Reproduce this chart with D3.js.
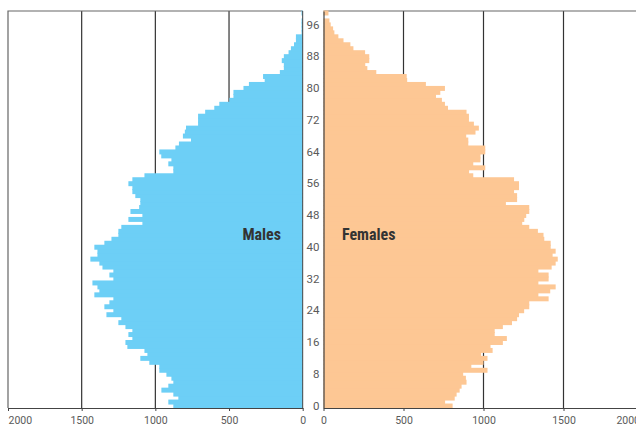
<!DOCTYPE html>
<html>
<head>
<meta charset="utf-8">
<script src="https://cdn.jsdelivr.net/npm/d3@7"></script>
<style>
  body { margin: 0; background: #fff; }
  .tick text { font-family: Roboto, "Open Sans", sans-serif; fill: #5a5a5a; }
  .label { font-family: "Liberation Sans Narrow", "Roboto Condensed", Roboto, sans-serif; font-weight: bold; fill: #333; }
</style>
</head>
<body>
<div id="chart"></div>
<script>
// population by single year of age, 0..99
var males = [878, 912, 844, 878, 959, 912, 878, 891, 925, 973,
  973, 1041, 1102, 1054, 1074, 1190, 1203, 1156, 1183, 1156,
  1203, 1251, 1231, 1332, 1285, 1346, 1312, 1285, 1414, 1380,
  1393, 1427, 1285, 1312, 1285, 1359, 1380, 1441, 1393, 1393,
  1414, 1346, 1298, 1251, 1251, 1231, 1088, 1183, 1088, 1169,
  1110, 1102, 1102, 1136, 1156, 1156, 1183, 1156, 1074, 878,
  878, 912, 891, 960, 973, 864, 840, 758, 813, 800,
  792, 710, 710, 710, 662, 600, 566, 498, 470, 470,
  402, 365, 258, 269, 155, 128, 128, 142, 128, 96,
  80, 59, 46, 46, 8, 8, 8, 8, 3, 8];

var females = [807, 760, 820, 832, 851, 863, 894, 890, 873, 1025,
  924, 1000, 1025, 985, 1057, 1044, 1121, 1146, 1070, 1070,
  1121, 1178, 1210, 1222, 1254, 1286, 1286, 1407, 1343, 1417,
  1451, 1343, 1407, 1407, 1343, 1426, 1451, 1464, 1432, 1451,
  1420, 1420, 1380, 1375, 1340, 1286, 1242, 1255, 1267, 1286,
  1286, 1140, 1210, 1210, 1191, 1222, 1222, 1191, 936, 910,
  1011, 936, 981, 981, 1011, 1011, 905, 905, 892, 950,
  971, 940, 909, 909, 894, 778, 759, 740, 703, 730,
  759, 640, 523, 520, 330, 274, 261, 286, 286, 260,
  187, 168, 125, 93, 68, 60, 45, 37, 0, 31];

var ages = d3.range(males.length);
var ageTicks = [0, 8, 16, 24, 32, 40, 48, 56, 64, 72, 80, 88, 96];
var popTicks = [0, 500, 1000, 1500, 2000];
var gridValues = [500, 1000, 1500];

var svgWidth = 636;
var svgHeight = 433;
var plotTop = 11;
var plotBottom = 408;

var svg = d3.select("#chart")
  .append("svg")
  .attr("width", svgWidth)
  .attr("height", svgHeight);

var xMale = d3.scaleLinear().domain([0, 2000]).range([302.7, 8]);
var xFemale = d3.scaleLinear().domain([0, 2000]).range([323.5, 643.5]);
var y = d3.scaleBand().domain(ages).range([plotBottom, plotTop]).padding(0);

// gridlines behind the bars
svg.selectAll(".gridM")
  .data(gridValues)
  .enter()
  .append("line")
  .attr("x1", d => xMale(d)).attr("x2", d => xMale(d))
  .attr("y1", plotTop).attr("y2", plotBottom)
  .attr("stroke", "#333").attr("stroke-width", 1.2);

svg.selectAll(".gridF")
  .data(gridValues)
  .enter()
  .append("line")
  .attr("x1", d => xFemale(d)).attr("x2", d => xFemale(d))
  .attr("y1", plotTop).attr("y2", plotBottom)
  .attr("stroke", "#333").attr("stroke-width", 1.2);

// frames
svg.append("path")
  .attr("d", `M${xMale(2000)},${plotBottom}V${plotTop}H${xMale(0)}`)
  .attr("fill", "none").attr("stroke", "#666").attr("stroke-width", 1.2);
svg.append("path")
  .attr("d", `M${xFemale(0)},${plotTop}H${xFemale(2000)}`)
  .attr("fill", "none").attr("stroke", "#666").attr("stroke-width", 1.2);

// bars (slight overlap so no seams show between ages)
svg.selectAll(".male")
  .data(males)
  .enter()
  .append("rect")
  .attr("x", d => xMale(d))
  .attr("y", (d, i) => y(i) - 0.5)
  .attr("width", d => xMale(0) - xMale(d))
  .attr("height", y.bandwidth() + 1)
  .attr("fill", "#6DCFF6");

svg.selectAll(".female")
  .data(females)
  .enter()
  .append("rect")
  .attr("x", xFemale(0))
  .attr("y", (d, i) => y(i) - 0.5)
  .attr("width", d => xFemale(d) - xFemale(0))
  .attr("height", y.bandwidth() + 1)
  .attr("fill", "#FDC794");

// axes
var fmt = d3.format("d");
var maleAxis = svg.append("g")
  .attr("transform", `translate(0, ${plotBottom})`)
  .call(d3.axisBottom(xMale).tickValues(popTicks).tickFormat(fmt).tickSize(3).tickPadding(6).tickSizeOuter(0));
maleAxis.selectAll("text").style("font-size", "10.5px")
  .filter(d => d === 2000).attr("text-anchor", "start");

var femaleAxis = svg.append("g")
  .attr("transform", `translate(0, ${plotBottom})`)
  .call(d3.axisBottom(xFemale).tickValues(popTicks).tickFormat(fmt).tickSize(3).tickPadding(6).tickSizeOuter(0));
femaleAxis.selectAll("text").style("font-size", "10.5px")
  .filter(d => d === 2000).attr("text-anchor", "end").attr("dx", "-4");

var ageAxis = svg.append("g")
  .attr("transform", `translate(${xFemale(0)}, 0)`)
  .call(d3.axisLeft(y).tickValues(ageTicks).tickSize(0).tickPadding(4).tickSizeOuter(0));
ageAxis.selectAll("text").style("font-size", "11.5px");

// right edge of the male side
svg.append("line")
  .attr("x1", xMale(0)).attr("x2", xMale(0))
  .attr("y1", plotTop).attr("y2", plotBottom)
  .attr("stroke", "#444").attr("stroke-width", 1);

[maleAxis, femaleAxis, ageAxis].forEach(function(g) {
  g.select(".domain").attr("stroke", "#444").attr("stroke-width", 1.2);
  g.selectAll(".tick line").attr("stroke", "#444");
});

// series labels
svg.append("text")
  .attr("class", "label")
  .attr("x", 281).attr("y", 240)
  .attr("text-anchor", "end")
  .style("font-size", "16px")
  .text("Males");

svg.append("text")
  .attr("class", "label")
  .attr("x", 342).attr("y", 240)
  .style("font-size", "16px")
  .text("Females");
</script>
</body>
</html>
